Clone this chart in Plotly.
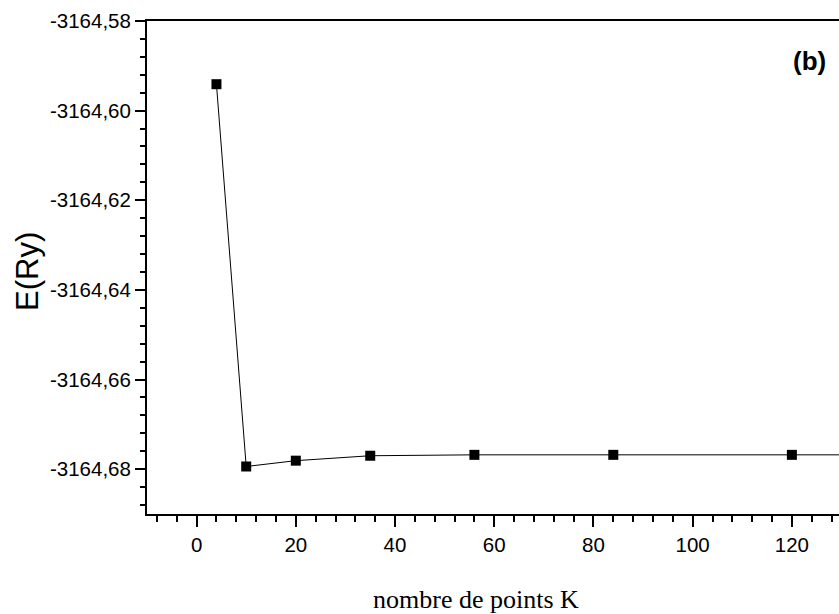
import plotly.graph_objects as go

k_points = [4, 10, 20, 35, 56, 84, 120, 165]
energy = [-3164.5941, -3164.6794, -3164.6781, -3164.6770, -3164.6768, -3164.6768, -3164.6768, -3164.6768]

x_ticks = [0, 20, 40, 60, 80, 100, 120]
y_ticks = [-3164.58, -3164.60, -3164.62, -3164.64, -3164.66, -3164.68]
y_tick_labels = ["-3164,58", "-3164,60", "-3164,62", "-3164,64", "-3164,66", "-3164,68"]

fig = go.Figure()
fig.add_trace(go.Scatter(
    x=k_points, y=energy, mode="lines+markers",
    line=dict(color="black", width=1),
    marker=dict(symbol="square", size=10, color="black"),
    showlegend=False,
))

tick_font = dict(family="Liberation Sans, Arial", size=20.5, color="black")

fig.update_layout(
    width=839, height=614,
    margin=dict(l=147, r=0, t=21, b=100),
    paper_bgcolor="white", plot_bgcolor="white",
    separators=",.",
    xaxis=dict(
        range=[-10, 129.5], tickvals=x_ticks, tickformat="d",
        showgrid=False, zeroline=False,
        showline=True, linecolor="black", linewidth=2, mirror=True,
        ticks="outside", ticklen=11, tickwidth=1.5, tickcolor="black",
        minor=dict(dtick=4, tick0=0, ticks="outside", ticklen=6, tickwidth=1.5, tickcolor="black", showgrid=False),
        tickfont=tick_font,
    ),
    yaxis=dict(
        range=[-3164.69, -3164.58], tickvals=y_ticks, ticktext=y_tick_labels,
        showgrid=False, zeroline=False,
        showline=True, linecolor="black", linewidth=2, mirror=False,
        ticks="outside", ticklen=10, tickwidth=1.5, tickcolor="black",
        minor=dict(dtick=0.004, tick0=-3164.58, ticks="outside", ticklen=5, tickwidth=1.5, tickcolor="black", showgrid=False),
        tickfont=tick_font,
    ),
    annotations=[
        dict(text="nombre de points K", x=476, y=614 - 599, xref="paper", yref="paper",
             showarrow=False, font=dict(family="Liberation Serif, Times New Roman", size=26, color="black"),
             xanchor="center", yanchor="middle"),
        dict(text="E(Ry)", textangle=-90, x=27, y=614 - 272, xref="paper", yref="paper",
             showarrow=False, font=dict(family="Liberation Sans, Arial", size=31, color="black"),
             xanchor="center", yanchor="middle"),
        dict(text="<b>(b)</b>", x=809, y=614 - 61, xref="paper", yref="paper",
             showarrow=False, font=dict(family="Liberation Sans, Arial", size=26, color="black"),
             xanchor="center", yanchor="middle"),
    ],
)

# convert pixel-based annotation positions to paper fractions
pw = 839 - 147
ph = 614 - 21 - 100
for a in fig.layout.annotations:
    a.x = (a.x - 147) / pw
    a.y = (a.y - 100) / ph

fig.write_html("out.html")
